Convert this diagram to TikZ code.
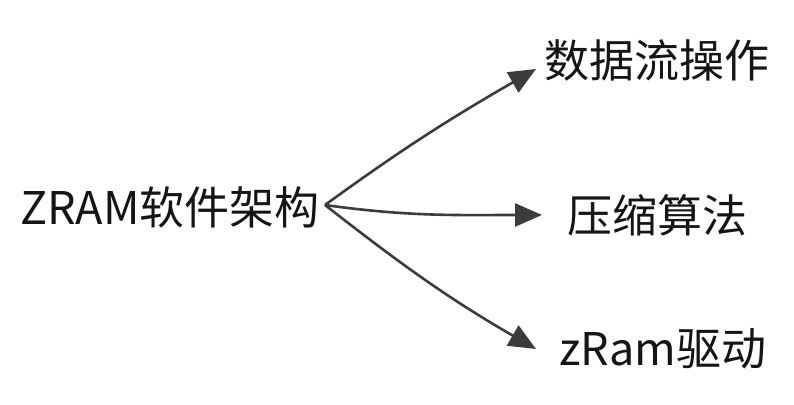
\documentclass[tikz,border=0pt]{standalone}
\usepackage{fontspec}
\setmainfont{Noto Sans CJK SC}
\usetikzlibrary{arrows.meta}
\definecolor{zrgray}{HTML}{3C3C3C}
\definecolor{zrtext}{HTML}{151515}
\tikzstyle{rootbox}=[inner sep=0pt, text=zrtext, font=\fontsize{45}{50}\selectfont]
\tikzstyle{leaf}=[inner sep=0pt, anchor=west, text=zrtext, font=\fontsize{45}{50}\selectfont]
\tikzstyle{arrow}=[line width=2.6pt, draw=zrgray, -{Triangle[length=27pt, width=23pt, fill=zrgray]}]

\begin{document}
\begin{tikzpicture}[x=1pt, y=1pt]
    \useasboundingbox (0,0) rectangle (794,404);
    \node[rootbox, anchor=east] (zram) at (320,197) {ZRAM软件架构};
    \node[leaf] (ops) at (544,344) {数据流操作};
    \node[leaf] (algo) at (567,189) {压缩算法};
    \node[leaf] (drv) at (559,55) {zRam驱动};

    \draw[arrow] ([xshift=5pt,yshift=2pt]zram.east) to[out=36, in=210] ([xshift=-8pt,yshift=-9pt]ops.west);
    \draw[arrow] ([xshift=5pt,yshift=2pt]zram.east) to[out=-8, in=180] ([xshift=-25pt]algo.west);
    \draw[arrow] ([xshift=5pt,yshift=2pt]zram.east) to[out=-38, in=150] ([xshift=-23pt]drv.west);
\end{tikzpicture}
\end{document}
